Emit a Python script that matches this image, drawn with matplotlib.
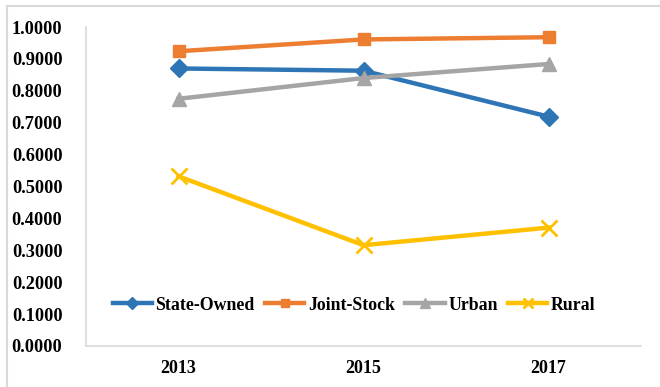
import matplotlib
matplotlib.use("Agg")
import matplotlib.pyplot as plt
from matplotlib.lines import Line2D

years = ["2013", "2015", "2017"]
state_owned = [0.870, 0.863, 0.719]
joint_stock = [0.924, 0.961, 0.968]
urban = [0.775, 0.840, 0.884]
rural = [0.532, 0.316, 0.371]
yticks = [0.0, 0.1, 0.2, 0.3, 0.4, 0.5, 0.6, 0.7, 0.8, 0.9, 1.0]

plt.rcParams['font.family'] = ['Liberation Serif', 'DejaVu Serif']
plt.rcParams['font.weight'] = 'bold'

W, H = 660, 387
fig = plt.figure(figsize=(W / 100, H / 100), dpi=100)
ax = fig.add_axes([86 / W, 1 - 346 / H, 555 / W, 319 / H])

x = list(range(len(years)))
series = [
    ("State-Owned", state_owned, "#2E75B6", "D", 9, 1),
    ("Joint-Stock", joint_stock, "#ED7D31", "s", 9, 1),
    ("Urban", urban, "#A5A5A5", "^", 10, 1),
    ("Rural", rural, "#FFC000", "x", 11, 2),
]
for name, vals, col, mk, ms, mew in series:
    ax.plot(x, vals, color=col, lw=3.2, marker=mk, ms=ms, mew=mew,
            mec=col, mfc=col, label=name, solid_joinstyle='round')

ax.set_xlim(-0.5, 2.5)
ax.set_ylim(0, 1.0)
ax.set_xticks(x)
ax.set_xticklabels(years)
ax.set_yticks(yticks)
ax.set_yticklabels([f"{v:.4f}" for v in yticks])
for s in ['top', 'right']:
    ax.spines[s].set_visible(False)
for s in ['left', 'bottom']:
    ax.spines[s].set_color('#D9D9D9')
    ax.spines[s].set_linewidth(1.2)
ax.tick_params(axis='y', length=0, pad=17, labelsize=13.2)
ax.tick_params(axis='x', length=0, pad=10, labelsize=13)
for t in ax.get_xticklabels() + ax.get_yticklabels():
    t.set_fontweight('bold')

handles = []
for name, vals, col, mk, ms, mew in series:
    handles.append(Line2D([], [], color=col, lw=3.2, marker=mk, ms=ms * 0.7,
                          mew=mew, mec=col, mfc=col))
leg = ax.legend(handles, [s[0] for s in series], loc='center',
                bbox_to_anchor=(0.483, 0.128), ncol=4, frameon=False,
                handlelength=2.2, handletextpad=0.2, columnspacing=0.6,
                prop={'family': 'Liberation Serif', 'weight': 'bold', 'size': 12.8})

# outer chart border
fig.add_artist(Line2D([7 / W, 7 / W], [0, 1 - 6 / H], transform=fig.transFigure,
                      color='#D9D9D9', lw=1.5))
fig.add_artist(Line2D([7 / W, 1], [1 - 6 / H, 1 - 6 / H], transform=fig.transFigure,
                      color='#D9D9D9', lw=1.5))

fig.savefig("out.png", dpi=100)
